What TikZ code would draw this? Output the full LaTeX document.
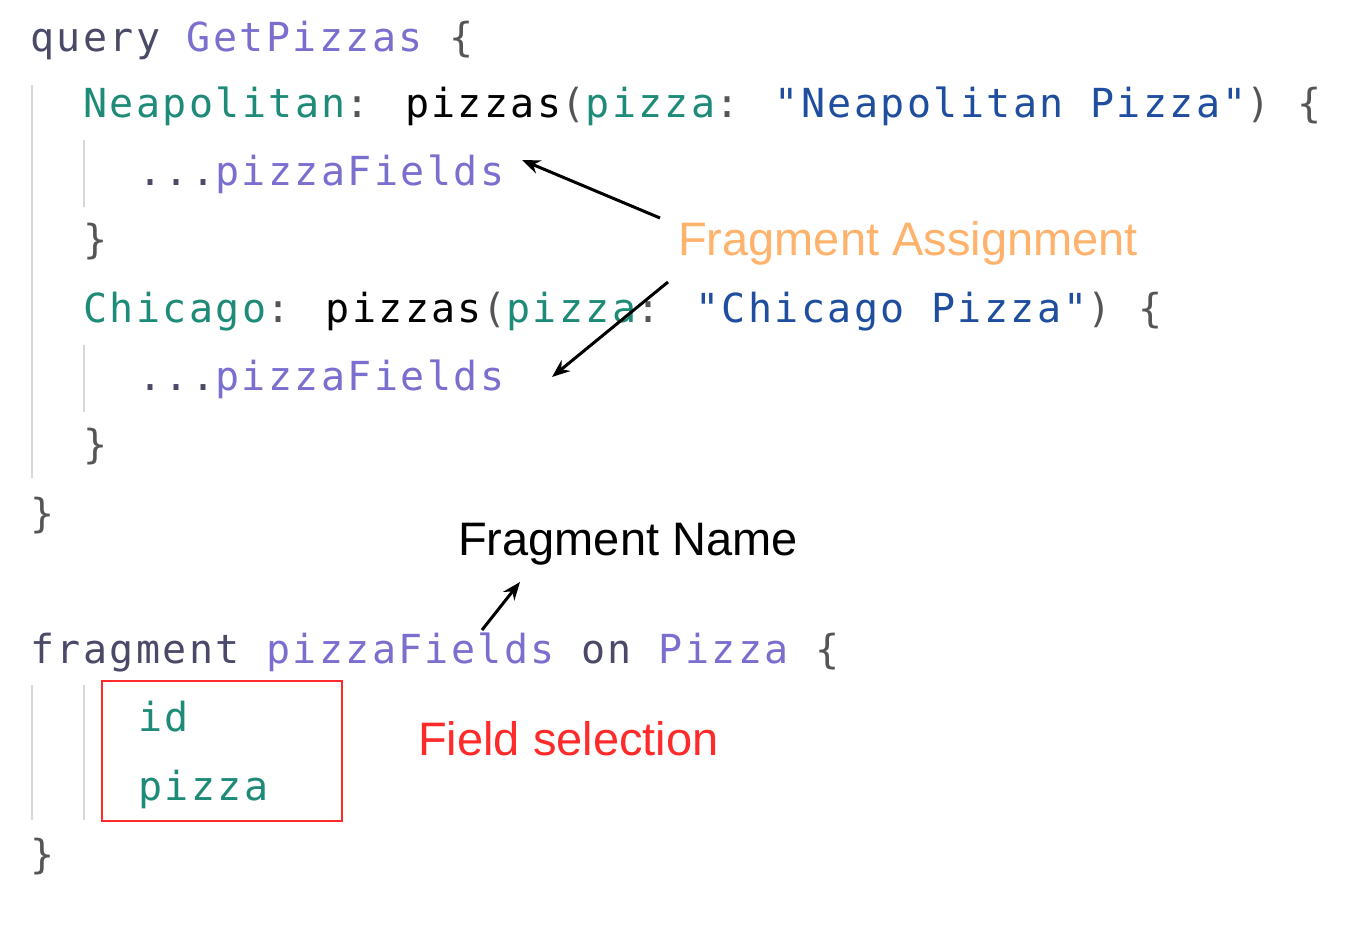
\documentclass[tikz,border=0pt]{standalone}
\usetikzlibrary{arrows.meta}
\usepackage{fontspec}
\setmainfont{Liberation Sans}
\newfontfamily\codefont[LetterSpace=6]{DejaVu Sans Mono}
\definecolor{kw}{HTML}{4A4A68}
\definecolor{pur}{HTML}{7A6FCF}
\definecolor{teal}{HTML}{1E8A78}
\definecolor{str}{HTML}{1F4E9E}
\definecolor{brc}{HTML}{555555}
\definecolor{org}{HTML}{FFB26B}
\definecolor{rd}{HTML}{FF2A2A}
\definecolor{guide}{HTML}{D8D8D8}
\begin{document}
\begin{tikzpicture}[x=1pt,y=-1pt,
  code/.style={anchor=mid west,inner sep=0pt,yshift=-9pt,font=\codefont\fontsize{40}{46}\selectfont},
  note/.style={anchor=mid west,inner sep=0pt,yshift=-13pt,font=\fontsize{47}{52}\selectfont},
  arr/.style={-{Stealth[length=18pt,width=14pt]},line width=3pt},
  gd/.style={guide,line width=2pt}]
\useasboundingbox (0,0) rectangle (1350,926);
\draw[gd] (32,85) -- (32,478);
\draw[gd] (84,140) -- (84,207);
\draw[gd] (84,345) -- (84,412);
\draw[gd] (32,685) -- (32,820);
\draw[gd] (84,685) -- (84,820);
\node[code] (l1) at (30,40) {\textcolor{kw}{query} \textcolor{pur}{GetPizzas} \textcolor{brc}{\{}};
\node[code] (l2) at (83,106) {\textcolor{teal}{Neapolitan}\textcolor{brc}{:} pizzas\textcolor{brc}{(}\textcolor{teal}{pizza}\textcolor{brc}{:} \textcolor{str}{"Neapolitan Pizza"}\textcolor{brc}{) \{}};
\node[code] (l3) at (138,174) {\textcolor{kw}{...}\textcolor{pur}{pizzaFields}};
\node[code] (l4) at (83,242) {\textcolor{brc}{\}}};
\node[code] (l5) at (83,311) {\textcolor{teal}{Chicago}\textcolor{brc}{:} pizzas\textcolor{brc}{(}\textcolor{teal}{pizza}\textcolor{brc}{:} \textcolor{str}{"Chicago Pizza"}\textcolor{brc}{) \{}};
\node[code] (l6) at (138,379) {\textcolor{kw}{...}\textcolor{pur}{pizzaFields}};
\node[code] (l7) at (83,447) {\textcolor{brc}{\}}};
\node[code] (l8) at (30,516) {\textcolor{brc}{\}}};
\node[code] (l9) at (30,652) {\textcolor{kw}{fragment} \textcolor{pur}{pizzaFields} \textcolor{kw}{on} \textcolor{pur}{Pizza} \textcolor{brc}{\{}};
\node[code] (l10) at (138,720) {\textcolor{teal}{id}};
\node[code] (l11) at (138,789) {\textcolor{teal}{pizza}};
\node[code] (l12) at (30,857) {\textcolor{brc}{\}}};
\node[draw=rd,line width=1.5pt,minimum width=240pt,minimum height=140pt,anchor=north west,inner sep=0pt] (box) at (101,680) {};
\node[note,text=org] (fa) at (678,240) {Fragment Assignment};
\node[note] (fn) at (458,540) {Fragment Name};
\node[note,text=rd] (fs) at (418,740) {Field selection};
\coordinate (a1s) at (660,218); \coordinate (a1e) at (522,160);
\coordinate (a2s) at (668,282); \coordinate (a2e) at (552,377);
\coordinate (a3s) at (482,630); \coordinate (a3e) at (520,582);
\draw[arr] (a1s) -- (a1e);
\draw[arr] (a2s) -- (a2e);
\draw[arr] (a3s) -- (a3e);
\end{tikzpicture}
\end{document}
